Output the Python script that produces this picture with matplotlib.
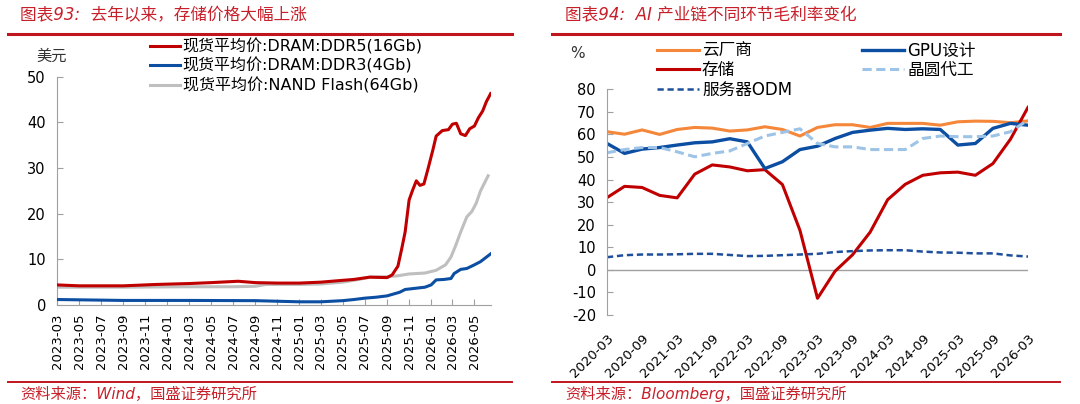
import numpy as np
import pandas as pd
import matplotlib
matplotlib.use("Agg")
import matplotlib.pyplot as plt
from matplotlib.lines import Line2D

plt.rcParams['font.family'] = ['DejaVu Sans', 'Noto Sans CJK SC']
plt.rcParams['axes.unicode_minus'] = False

# ---------- 左图数据: 存储现货价格 (美元) ----------
ddr5_dates = ['2023-03-01', '2023-05-01', '2023-09-01', '2023-12-01', '2024-03-01', '2024-05-01',
              '2024-07-15', '2024-09-01', '2024-11-01', '2025-01-01', '2025-03-01', '2025-04-15',
              '2025-06-01', '2025-07-15', '2025-09-01', '2025-09-15', '2025-10-01', '2025-10-12',
              '2025-10-21', '2025-11-01', '2025-11-10', '2025-11-21', '2025-12-01', '2025-12-12',
              '2025-12-24', '2026-01-06', '2026-01-15', '2026-02-01', '2026-02-18', '2026-03-01',
              '2026-03-12', '2026-03-24', '2026-04-06', '2026-04-18', '2026-05-01', '2026-05-12',
              '2026-05-24', '2026-06-03', '2026-06-15']
ddr5_vals = [4.4, 4.2, 4.2, 4.5, 4.7, 4.9, 5.2, 4.9, 4.8, 4.8, 5.0, 5.3, 5.6, 6.1, 6.0, 6.6, 8.5,
             12.5, 16.0, 23.0, 25.0, 27.2, 26.2, 26.5, 30.0, 34.0, 37.0, 38.2, 38.4, 39.6, 39.8,
             37.5, 37.1, 38.6, 39.2, 41.0, 42.5, 44.5, 46.3]

ddr3_dates = ['2023-03-01', '2023-09-01', '2024-03-01', '2024-09-01', '2025-01-01', '2025-03-01',
              '2025-05-01', '2025-06-01', '2025-07-01', '2025-08-01', '2025-09-01', '2025-10-06',
              '2025-10-21', '2025-11-12', '2025-12-15', '2026-01-01', '2026-01-15', '2026-02-06',
              '2026-02-25', '2026-03-06', '2026-03-24', '2026-04-10', '2026-05-01', '2026-05-18',
              '2026-06-15']
ddr3_vals = [1.2, 1.0, 1.0, 0.95, 0.7, 0.7, 0.95, 1.2, 1.5, 1.7, 2.0, 2.8, 3.4, 3.6, 3.9, 4.4,
             5.5, 5.6, 5.8, 6.9, 7.8, 8.0, 8.8, 9.5, 11.2]

nand_dates = ['2023-03-01', '2023-09-01', '2024-03-01', '2024-07-01', '2024-09-01', '2024-10-01',
              '2025-01-01', '2025-03-01', '2025-05-01', '2025-06-15', '2025-07-15', '2025-09-01',
              '2025-10-01', '2025-11-01', '2025-12-15', '2026-01-15', '2026-02-10', '2026-02-25',
              '2026-03-10', '2026-03-24', '2026-04-10', '2026-04-24', '2026-05-06', '2026-05-18',
              '2026-06-08']
nand_vals = [3.9, 3.9, 4.0, 4.0, 4.1, 4.5, 4.5, 4.6, 5.0, 5.6, 6.1, 6.2, 6.4, 6.8, 7.0, 7.6, 8.8,
             10.5, 13.0, 16.0, 19.3, 20.5, 22.3, 25.0, 28.3]

left_ticks = pd.date_range('2023-03-01', '2026-05-01', freq='2MS')

# ---------- 右图数据: 毛利率 (%) 季度 ----------
quarters = pd.period_range('2020Q1', '2026Q1', freq='Q')
q_labels = [f"{p.year}-{p.quarter * 3:02d}" for p in quarters]
cloud = [61.2, 60.1, 62.0, 60.0, 62.2, 63.1, 62.8, 61.5, 62.0, 63.4, 62.2, 59.3, 63.1, 64.3, 64.3,
         63.1, 64.9, 64.9, 64.9, 64.1, 65.6, 65.9, 65.8, 65.2, 66.0]
gpu = [56.0, 51.6, 53.5, 54.2, 55.3, 56.3, 56.7, 58.1, 56.7, 44.9, 47.9, 53.3, 54.8, 58.2, 60.9,
       61.9, 62.7, 62.2, 62.5, 62.2, 55.3, 56.0, 62.7, 64.9, 64.1]
storage = [32.0, 37.0, 36.5, 33.0, 31.9, 42.4, 46.5, 45.6, 43.9, 44.4, 37.8, 17.5, -12.6, -0.6,
           6.7, 16.7, 31.1, 37.9, 41.9, 43.0, 43.3, 41.9, 47.1, 57.9, 72.0]
foundry = [51.9, 53.3, 54.2, 54.2, 52.3, 50.1, 51.6, 52.7, 56.0, 59.3, 60.9, 62.5, 56.0, 54.5,
           54.5, 53.3, 53.3, 53.3, 58.2, 59.3, 59.0, 59.0, 59.3, 61.2, 66.4]
odm = [5.6, 6.5, 6.8, 6.8, 6.9, 7.1, 7.1, 6.6, 6.1, 6.2, 6.5, 6.8, 7.1, 7.9, 8.3, 8.6, 8.7, 8.7,
       8.1, 7.7, 7.6, 7.3, 7.3, 6.4, 5.9]

RED_TXT = '#C8202A'
GRAY_AX = '#A0A0A0'

fig = plt.figure(figsize=(10.8, 4.04), dpi=100)
W, H = 1080, 404


def fx(px):
    return px / W


def fy(py):
    return 1 - py / H


# 标题/来源 与 红色分隔线
fig.text(fx(20), fy(15), '图表93:  去年以来，存储价格大幅上涨', color=RED_TXT, fontsize=12,
         style='italic', va='center', ha='left')
fig.text(fx(565), fy(15), '图表94:  AI 产业链不同环节毛利率变化', color=RED_TXT, fontsize=12,
         style='italic', va='center', ha='left')
fig.text(fx(20), fy(394), '资料来源：Wind，国盛证券研究所', color=RED_TXT, fontsize=11,
         style='italic', va='center', ha='left')
fig.text(fx(565), fy(394), '资料来源：Bloomberg，国盛证券研究所', color=RED_TXT, fontsize=11,
         style='italic', va='center', ha='left')
for x0, x1 in [(8, 512), (552, 1060)]:
    fig.add_artist(Line2D([fx(x0), fx(x1)], [fy(33.5), fy(33.5)], color='#C0151E', lw=2.2))
    fig.add_artist(Line2D([fx(x0), fx(x1)], [fy(381.5), fy(381.5)], color='#C0151E', lw=1.4))

# ---------- 左图 ----------
ax1 = fig.add_axes([fx(57), fy(305), fx(491 - 57), (305 - 76.7) / H])
ax1.plot(pd.to_datetime(ddr5_dates), ddr5_vals, color='#C00000', lw=2.2,
         label='现货平均价:DRAM:DDR5(16Gb)', zorder=3)
ax1.plot(pd.to_datetime(ddr3_dates), ddr3_vals, color='#0B4EA2', lw=2.2,
         label='现货平均价:DRAM:DDR3(4Gb)', zorder=3)
ax1.plot(pd.to_datetime(nand_dates), nand_vals, color='#BFBFBF', lw=2.2,
         label='现货平均价:NAND Flash(64Gb)', zorder=2)
ax1.set_xlim(pd.Timestamp('2023-03-01'), pd.Timestamp('2026-06-16'))
ax1.set_ylim(0, 50)
ax1.set_yticks(range(0, 51, 10))
ax1.set_xticks(left_ticks)
ax1.set_xticklabels([d.strftime('%Y-%m') for d in left_ticks], rotation=90, fontsize=9.5)
ax1.tick_params(axis='y', labelsize=10.5, direction='in', length=4, color=GRAY_AX, pad=8)
ax1.tick_params(axis='x', direction='in', length=4, color=GRAY_AX, pad=6)
for s in ['top', 'right']:
    ax1.spines[s].set_visible(False)
for s in ['left', 'bottom']:
    ax1.spines[s].set_color(GRAY_AX)
fig.text(fx(52), fy(56), '美元', fontsize=11, ha='center', va='center', color='#333333')
ax1.legend(loc='upper left', bbox_to_anchor=(fx(150), fy(38)), bbox_transform=fig.transFigure,
           frameon=False, fontsize=11.5, borderpad=0, borderaxespad=0, labelspacing=0.22,
           handlelength=1.9, handletextpad=0.15)

# ---------- 右图 ----------
ax2 = fig.add_axes([fx(607), fy(315), fx(1028 - 607), (315 - 89.3) / H])
xq = np.arange(len(quarters))
ax2.plot(xq, cloud, color='#F4873A', lw=2.2, label='云厂商')
ax2.plot(xq, storage, color='#C00000', lw=2.2, label='存储')
ax2.plot(xq, odm, color='#1F4E9C', lw=1.8, ls=(0, (2.5, 1.5)), label='服务器ODM')
ax2.plot(xq, gpu, color='#0B4EA2', lw=2.4, label='GPU设计')
ax2.plot(xq, foundry, color='#9DC3E6', lw=2.2, ls=(0, (3, 1.5)), label='晶圆代工')
ax2.axhline(0, color=GRAY_AX, lw=1, zorder=0)
ax2.set_xlim(0, len(quarters) - 1)
ax2.set_ylim(-20, 80)
ax2.set_yticks(range(-20, 81, 10))
ax2.set_xticks(xq[::2])
ax2.set_xticklabels(q_labels[::2], rotation=45, ha='right', rotation_mode='anchor', fontsize=9.5)
ax2.tick_params(axis='x', length=0, pad=12)
ax2.tick_params(axis='y', labelsize=10.5, direction='in', length=4, color=GRAY_AX, pad=8)
for s in ['top', 'right', 'bottom']:
    ax2.spines[s].set_visible(False)
ax2.spines['left'].set_color(GRAY_AX)
fig.text(fx(577), fy(53), '%', fontsize=11, ha='center', va='center', color='#333333')
ax2.legend(loc='upper left', bbox_to_anchor=(fx(657), fy(41.5)), bbox_transform=fig.transFigure,
           ncol=2, frameon=False, fontsize=12, borderpad=0, borderaxespad=0, labelspacing=0.1,
           handlelength=2.5, handletextpad=0.2, columnspacing=4.2)

fig.savefig('out.png', dpi=100)
